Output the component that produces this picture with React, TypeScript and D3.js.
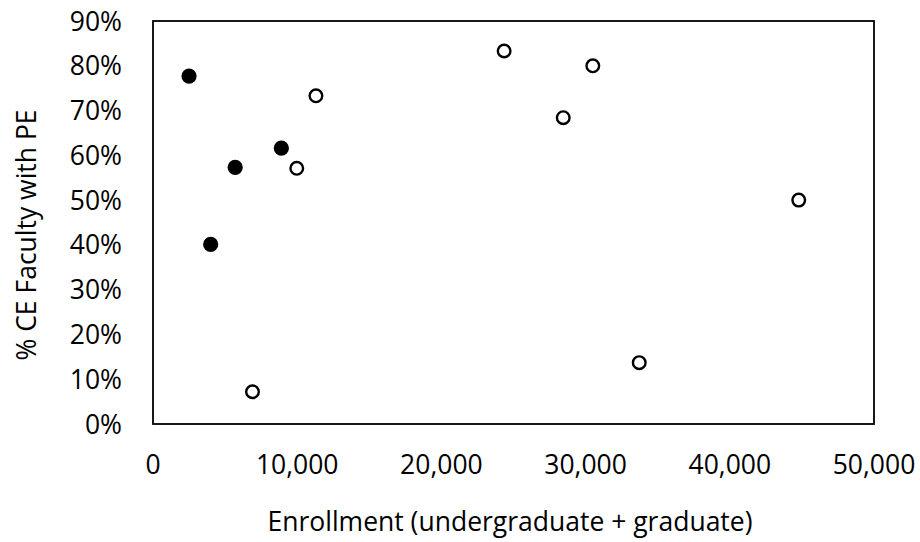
import React from "react";
import * as d3 from "d3";

const filledX = [2500, 5700, 8900, 4000];
const filledY = [0.777, 0.573, 0.616, 0.401];
const openX = [11300, 9970, 6900, 24350, 30500, 28450, 44780, 33720];
const openY = [0.733, 0.571, 0.072, 0.833, 0.80, 0.684, 0.50, 0.137];
const xTicks = [0, 10000, 20000, 30000, 40000, 50000];
const yTicks = [0, 0.1, 0.2, 0.3, 0.4, 0.5, 0.6, 0.7, 0.8, 0.9];
const xTitle = "Enrollment (undergraduate + graduate)";
const yTitle = "% CE Faculty with PE";

const W = 920, H = 542;
const L = 153, R = 874, T = 21, B = 424;
const FONT = "'Open Sans', sans-serif";
const FS = 26.5;

export default function App() {
  const x = d3.scaleLinear().domain([0, 50000]).range([L, R]);
  const y = d3.scaleLinear().domain([0, 0.9]).range([B, T]);
  const fmtX = d3.format(",");
  const fmtY = d3.format(".0%");
  return (
    <svg width={W} height={H} style={{ position: "fixed", left: 0, top: 0, background: "#fff" }} fontFamily={FONT}>
      <rect x={0} y={0} width={W} height={H} fill="#fff" />
      <rect x={L} y={T} width={R - L} height={B - T} fill="none" stroke="#000" strokeWidth={1.8} />
      {yTicks.map((t) => (
        <text key={t} x={122} y={y(t)} dy="0.36em" textAnchor="end" fontSize={FS} fill="#000">
          {fmtY(t)}
        </text>
      ))}
      {xTicks.map((t) => (
        <text key={t} x={x(t)} y={474} textAnchor="middle" fontSize={FS} fill="#000">
          {fmtX(t)}
        </text>
      ))}
      <text x={510} y={531} textAnchor="middle" fontSize={FS} fill="#000">{xTitle}</text>
      <text transform={`translate(36,235) rotate(-90)`} textAnchor="middle" fontSize={FS} fill="#000">{yTitle}</text>
      {openX.map((v, i) => (
        <circle key={"o" + i} cx={x(v)} cy={y(openY[i])} r={6.3} fill="#fff" stroke="#000" strokeWidth={2.4} />
      ))}
      {filledX.map((v, i) => (
        <circle key={"f" + i} cx={x(v)} cy={y(filledY[i])} r={7.6} fill="#000" />
      ))}
    </svg>
  );
}
